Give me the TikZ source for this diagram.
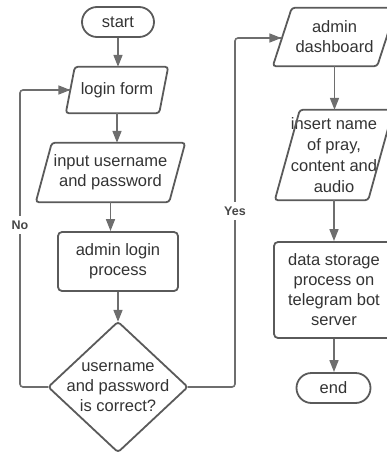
\documentclass[tikz,border=0pt]{standalone}
\usepackage{fontspec}
\setmainfont{Liberation Sans}
\usetikzlibrary{arrows.meta}
\definecolor{edgecol}{HTML}{5A5A5A}
\definecolor{conncol}{HTML}{6E6E6E}
\definecolor{txtcol}{HTML}{333333}
\newcommand\paraoutline[2]{\draw[shapeline, rounded corners=3pt] ([xshift=#2]#1.north west) -- (#1.north east) -- ([xshift=-#2]#1.south east) -- (#1.south west) -- cycle;}
\begin{document}
\begin{tikzpicture}[x=1pt,y=-1pt,
  lbl/.style={font=\fontsize{16.5}{20}\selectfont, text=txtcol, align=center, inner sep=0pt},
  shapeline/.style={draw=edgecol, line width=1.8pt},
  term/.style={lbl, shapeline, rounded corners=15pt, minimum width=72pt, minimum height=30pt},
  procbox/.style={lbl, shapeline, rounded corners=4pt},
  conn/.style={draw=conncol, line width=1.6pt, -{Triangle[length=12pt,width=9pt]}},
  loopline/.style={draw=conncol, line width=1.6pt, rounded corners=3pt},
  smalllbl/.style={font=\fontsize{12.5}{14}\selectfont\bfseries, text=txtcol!90!white, fill=white, inner xsep=1pt, inner ysep=5pt}
]
\useasboundingbox (0,0) rectangle (387,453);
\clip (0,0) rectangle (387,453);

% left column
\node[term] (start) at (118,22) {start};
\node[lbl, minimum width=102pt, minimum height=46pt] (form) at (117,90) {login form};
\paraoutline{form}{9pt}
\node[lbl, minimum width=149pt, minimum height=59pt] (input) at (110.5,172.5) {input username\\and password};
\paraoutline{input}{16pt}
\node[procbox, minimum width=120pt, minimum height=59pt] (proc) at (118,261.5) {admin login\\process};
\node[lbl, minimum width=139pt, minimum height=130pt] (dec) at (118,387) {username\\and password\\is correct?};
\draw[shapeline, rounded corners=3pt] (dec.north) -- (dec.east) -- (dec.south) -- (dec.west) -- cycle;

% right column
\node[lbl, minimum width=123pt, minimum height=58pt] (dash) at (334.5,37) {admin\\dashboard};
\paraoutline{dash}{19pt}
\node[lbl, minimum width=118pt, minimum height=90pt, font=\fontsize{16.5}{21}\selectfont] (ins) at (334,155) {insert name\\of pray,\\content and\\audio};
\paraoutline{ins}{25pt}
\node[procbox, minimum width=120pt, minimum height=96pt] (store) at (334,290) {data storage\\process on\\telegram bot\\server};
\node[term, minimum width=74pt] (end) at (333.5,388) {end};

% connectors
\draw[conn] (start.south) -- (start.south |- form.north);
\draw[conn] (form.south) -- (form.south |- input.north);
\draw[conn] (input.south) -- (input.south |- proc.north);
\draw[conn] (proc.south) -- (dec.north);
\draw[conn] (dash.south) -- (dash.south |- ins.north);
\draw[conn] (ins.south) -- (ins.south |- store.north);
\draw[conn] (store.south) -- (store.south |- end.north);

% No loop
\coordinate (noX) at (20,0);
\coordinate (formIn) at ([xshift=4.5pt]form.west);
\draw[loopline] (dec.west) -- (dec.west -| noX) -- (noX |- formIn) -- (formIn);
\draw[conn] ([xshift=-12pt]formIn) -- (formIn);
\node[smalllbl] (nolbl) at (20,225) {No};

% Yes loop
\coordinate (yesX) at (235,0);
\coordinate (dashIn) at ([xshift=8.5pt,yshift=-1pt]dash.west);
\draw[loopline] (dec.east) -- (dec.east -| yesX) -- (yesX |- dashIn) -- (dashIn);
\draw[conn] ([xshift=-12pt]dashIn) -- (dashIn);
\node[smalllbl] (yeslbl) at (235,211) {Yes};
\end{tikzpicture}
\end{document}
